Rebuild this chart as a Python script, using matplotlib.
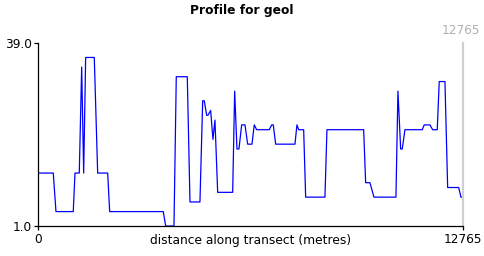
import matplotlib
matplotlib.use("Agg")
import matplotlib.pyplot as plt

# profile samples (distance in metres, value)
distance = [0, 445, 526, 1046, 1098, 1227, 1299, 1359, 1419, 1678, 1780, 2081,
            2141, 3753, 3825, 4075, 4144, 4475, 4556, 4856, 4938, 4986, 5058,
            5097, 5178, 5247, 5307, 5389, 5840, 5900, 5969, 6029, 6110, 6210,
            6291, 6420, 6489, 6561, 6940, 7013, 7061, 7133, 7713, 7773, 7824,
            7975, 8035, 8615, 8675, 9779, 9839, 9968, 10089, 10750, 10810,
            10892, 10940, 11021, 11541, 11601, 11773, 11854, 11992, 12052,
            12224, 12305, 12636, 12705, 12765]
value = [12, 12, 4, 4, 12, 12, 34, 12, 36, 36, 12, 12,
         4, 4, 1, 1, 32, 32, 6, 6, 27, 27, 24,
         24, 25, 19, 23, 8, 8, 29, 17, 17, 22, 22,
         18, 18, 22, 21, 21, 22, 22, 18, 18, 22, 21,
         21, 7, 7, 21, 21, 10, 10, 7, 7, 29,
         17, 17, 21, 21, 22, 22, 21, 21, 31,
         31, 9, 9, 7, 7]

x_max = 12765
y_min, y_max = 1.0, 39.0

fig = plt.figure(figsize=(4.84, 2.56), dpi=100)
ax = fig.add_axes([0.0795, 0.117, 0.877, 0.715])

ax.plot(distance, value, color="#0000ff", lw=0.9)
ax.set_xlim(0, x_max)
ax.set_ylim(y_min, y_max)

ax.spines["top"].set_visible(False)
ax.spines["right"].set_color("#d0d0d0")
ax.spines["right"].set_linewidth(1.6)
ax.spines["left"].set_linewidth(0.9)
ax.spines["bottom"].set_linewidth(0.9)

ax.set_yticks([y_min, y_max])
ax.set_yticklabels([f"{y_min:.1f}", f"{y_max:.1f}"])
ax.set_xticks([0, x_max])
ax.set_xticklabels(["0", str(x_max)])
ax.tick_params(labelsize=8.7, length=3, width=0.9, pad=2)
ax.tick_params(axis="y", right=False)

ax.text(0.5, -0.045, "distance along transect (metres)", transform=ax.transAxes,
        ha="center", va="top", fontsize=8.8)
ax.text(0.995, 1.035, str(x_max), transform=ax.transAxes, ha="center", va="bottom",
        fontsize=8.7, color="#b0b0b0")

fig.suptitle("Profile for geol", x=0.5, y=0.985, fontsize=8.8, fontweight="bold")

fig.savefig("out.png", dpi=100)
